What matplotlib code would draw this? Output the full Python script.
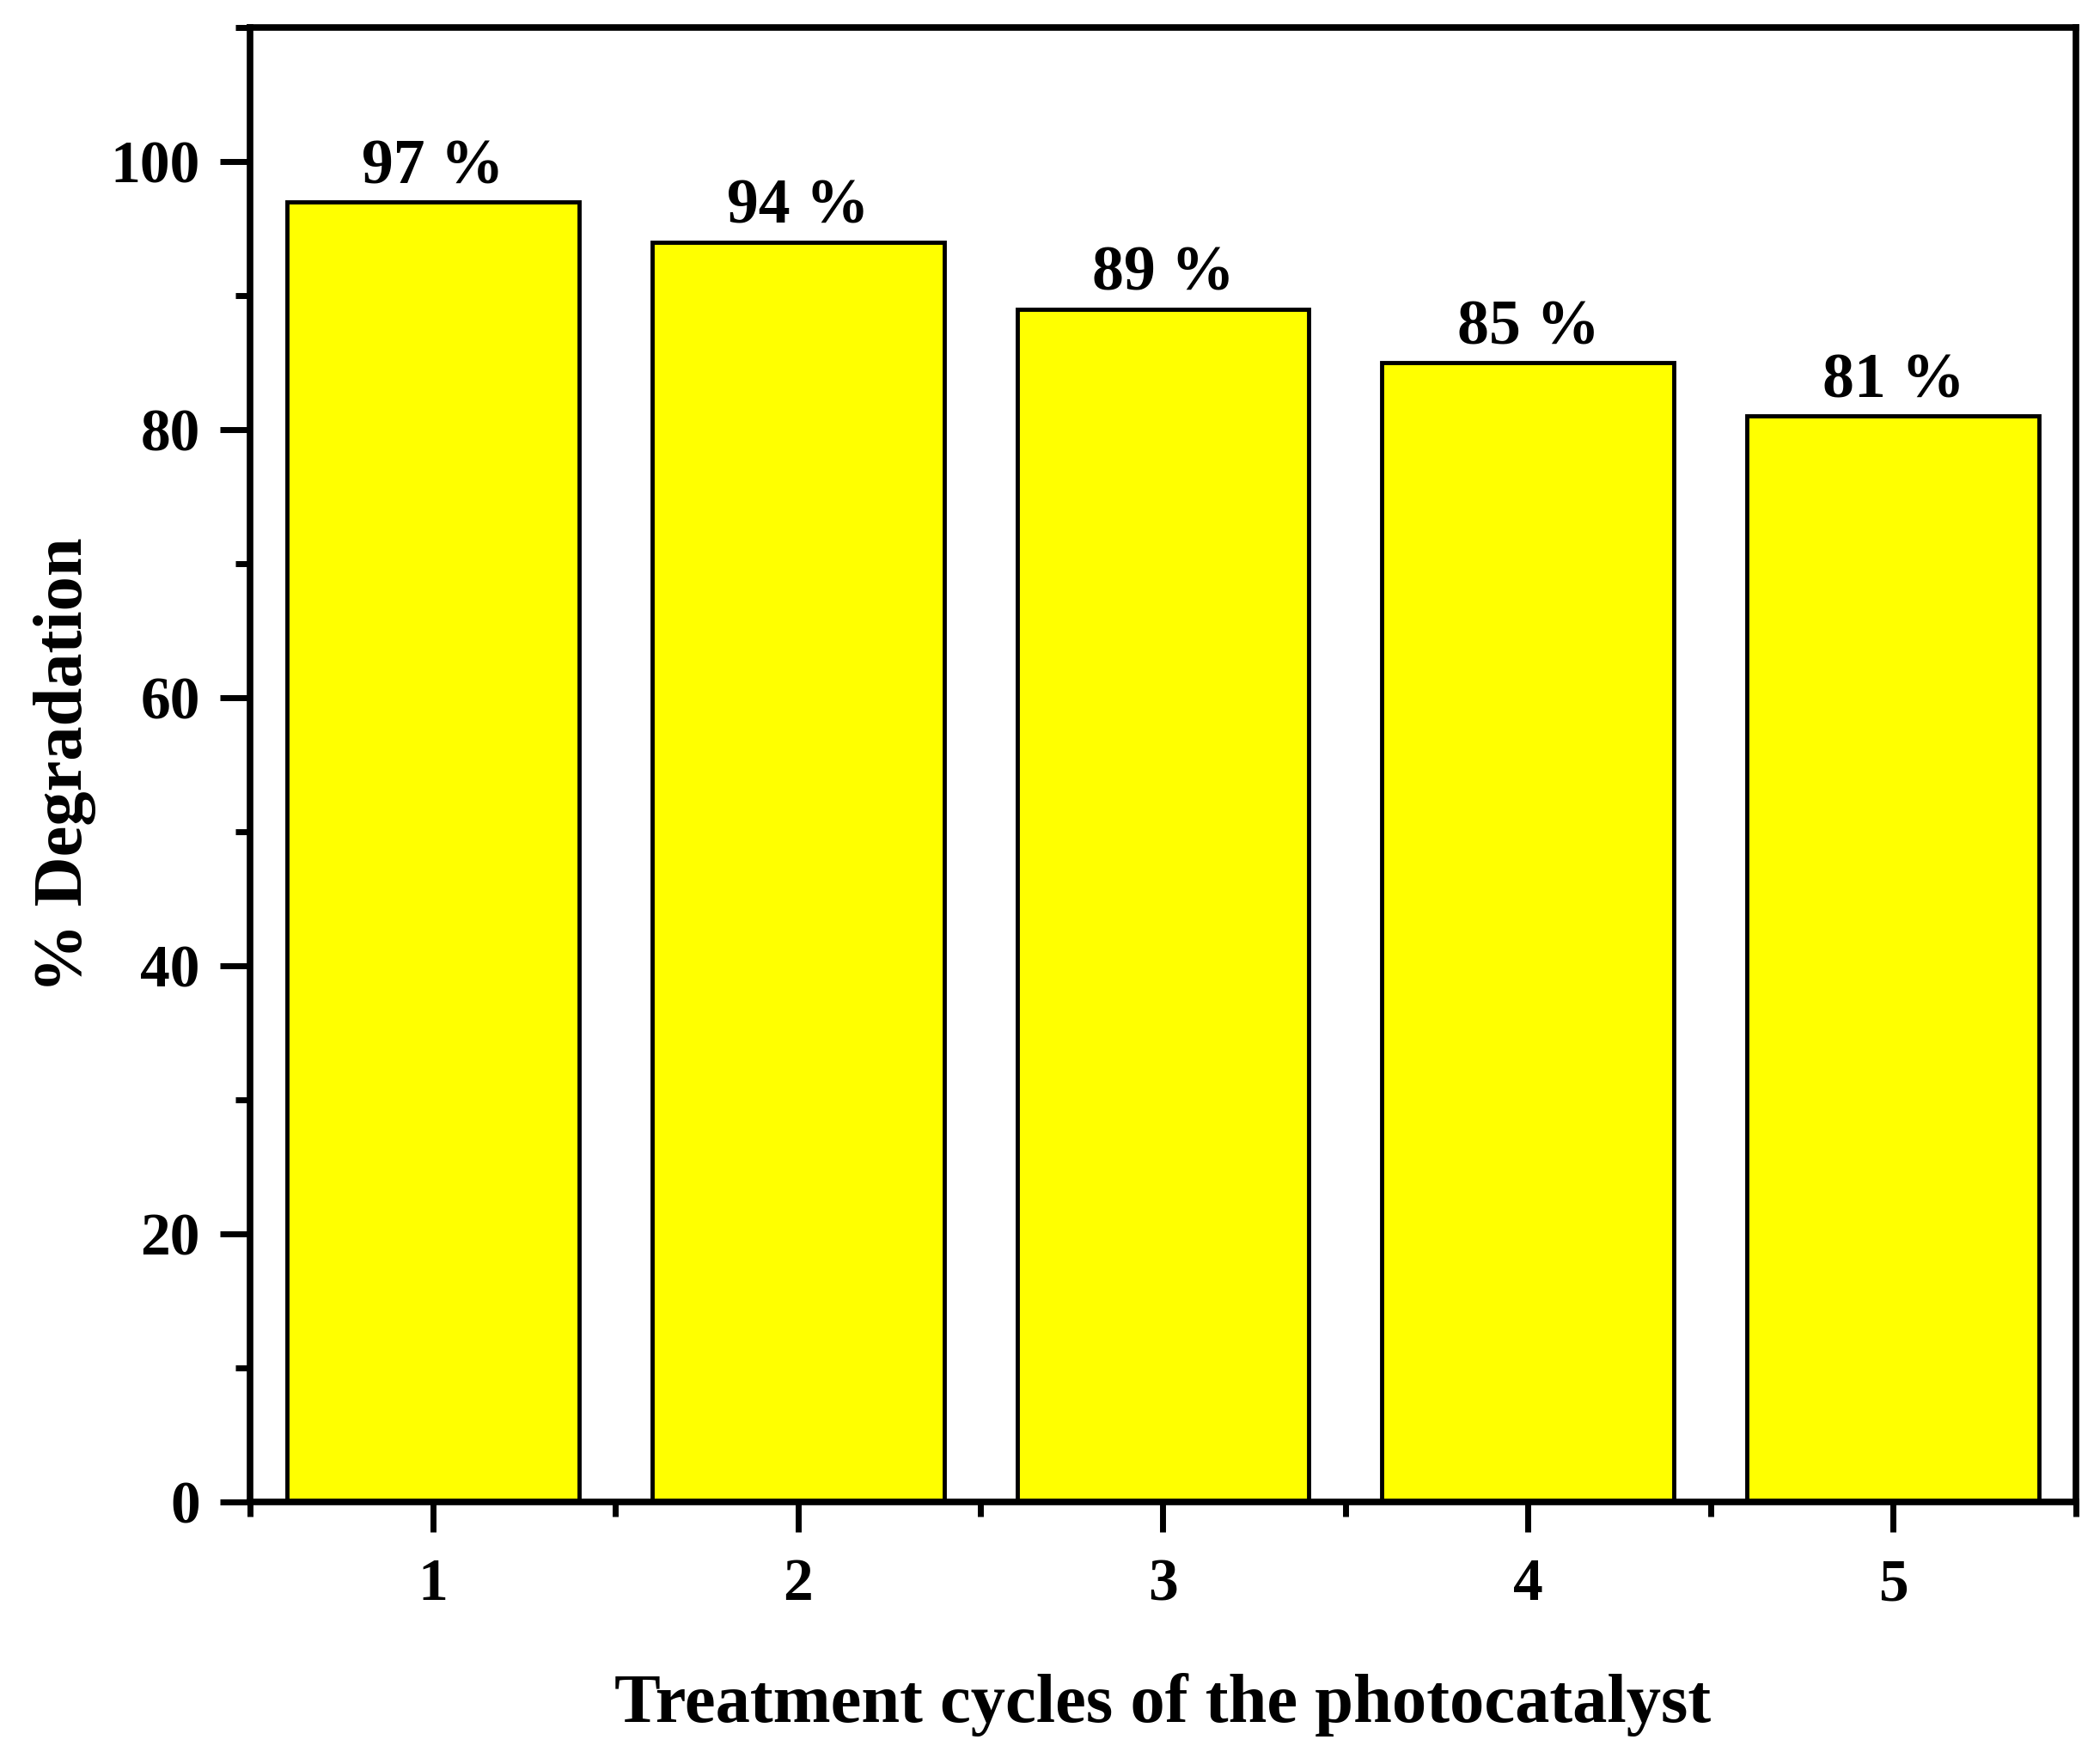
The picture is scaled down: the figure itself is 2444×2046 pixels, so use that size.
import matplotlib
matplotlib.use("Agg")
import matplotlib.pyplot as plt
from matplotlib.ticker import MultipleLocator

# Data
cycles = [1, 2, 3, 4, 5]
degradation = [97, 94, 89, 85, 81]
bar_labels = ["97 %", "94 %", "89 %", "85 %", "81 %"]

plt.rcParams['font.family'] = 'Liberation Serif'
plt.rcParams['font.weight'] = 'bold'

fig = plt.figure(figsize=(24.44, 20.46), dpi=100)
ax = fig.add_axes([0.1191, 0.1457, 0.8694, 0.8387])

bars = ax.bar(cycles, degradation, width=0.8, color='#ffff00',
              edgecolor='black', linewidth=3.5)
ax.bar_label(bars, labels=bar_labels, padding=4, fontsize=53, fontweight='bold')

ax.set_xlim(0.5, 5.5)
ax.set_ylim(0, 110)
ax.set_xticks(cycles)
ax.set_yticks([0, 20, 40, 60, 80, 100])
ax.xaxis.set_minor_locator(MultipleLocator(0.5))
ax.yaxis.set_minor_locator(MultipleLocator(10))

for side in ax.spines:
    ax.spines[side].set_linewidth(5.5)

ax.tick_params(which='major', direction='out', length=25, width=5, labelsize=50, pad=22)
ax.tick_params(which='minor', direction='out', length=12, width=5)
ax.tick_params(axis='y', which='major', pad=17)

ax.set_xlabel('Treatment cycles of the photocatalyst', fontsize=58, fontweight='bold', labelpad=50)
ax.set_ylabel('% Degradation', fontsize=58, fontweight='bold', labelpad=12)

plt.savefig("out.png", dpi=100)
plt.close()
